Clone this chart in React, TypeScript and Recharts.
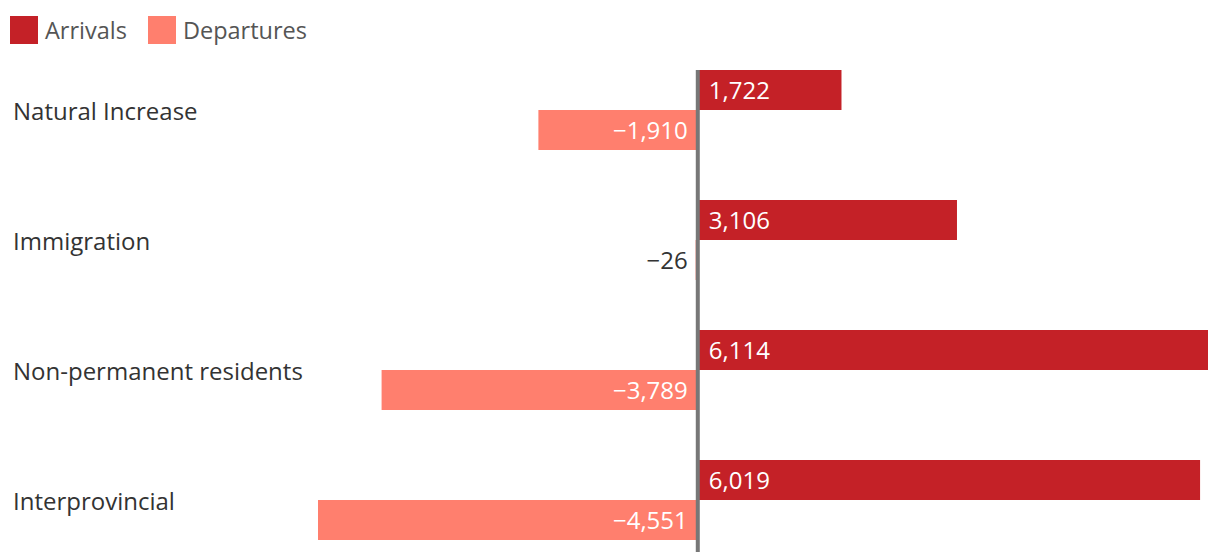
import React from 'react';
import { BarChart, Bar, XAxis, YAxis, ReferenceLine, LabelList } from 'recharts';

const categories = ['Natural Increase', 'Immigration', 'Non-permanent residents', 'Interprovincial'];
const arrivals = [1722, 3106, 6114, 6019];
const departures = [-1910, -26, -3789, -4551];
const seriesNames = ['Arrivals', 'Departures'];
const seriesColors = ['#C42127', '#FF7F6E'];
const xDomain = [-4551, 6114];

const data = categories.map((name, i) => ({ name, arrivals: arrivals[i], departures: departures[i] }));

const FONT = '"Open Sans", "Noto Sans", sans-serif';

const fmt = (v: number) => (v < 0 ? '\u2212' : '') + Math.abs(v).toLocaleString('en-US');

const ArrivalLabel = (props: any) => {
  const { x, y, width, height, value } = props;
  const left = Math.min(x, x + width);
  return (
    <text x={left + 11} y={y + height / 2} dy="0.36em" textAnchor="start" fill="#fff" fontSize={24} fontFamily={FONT}>
      {fmt(value)}
    </text>
  );
};

const DepartureLabel = (props: any) => {
  const { x, y, width, height, value } = props;
  const right = Math.max(x, x + width);
  const w = Math.abs(width);
  return (
    <text x={right - 10} y={y + height / 2} dy="0.36em" textAnchor="end" fill={w > 80 ? '#fff' : '#333'} fontSize={24} fontFamily={FONT}>
      {fmt(value)}
    </text>
  );
};

const CategoryTick = (props: any) => {
  const { y, payload } = props;
  return (
    <text x={13} y={y + 1} dy="0.36em" textAnchor="start" fill="#333" fontSize={24} fontFamily={FONT}>
      {payload.value}
    </text>
  );
};

const ZeroLine = (props: any) => {
  const { x1, y1, x2, y2 } = props;
  const top = Math.min(y1, y2);
  const bottom = Math.max(y1, y2);
  return <line x1={x1} y1={top + 25} x2={x2} y2={bottom} stroke="#777" strokeWidth={4} />;
};

export default function App() {
  return (
    <div style={{ position: 'absolute', left: 0, top: 0, width: 1220, height: 552, overflow: 'hidden', background: '#fff' }}>
      <div style={{ position: 'absolute', left: 10, top: 16, display: 'flex', alignItems: 'center', fontFamily: FONT, fontSize: 23.5, color: '#555', zIndex: 2 }}>
        {seriesNames.map((n, i) => (
          <div key={n} style={{ display: 'flex', alignItems: 'center', marginRight: 21 }}>
            <div style={{ width: 28, height: 28, background: seriesColors[i], marginRight: 7 }} />
            <span style={{ lineHeight: '28px' }}>{n}</span>
          </div>
        ))}
      </div>
      <BarChart
        width={1220}
        height={565}
        data={data}
        layout="vertical"
        margin={{ top: 45, right: 12, left: 0, bottom: 0 }}
        barGap={0}
        barCategoryGap={25}
      >
        <XAxis type="number" domain={xDomain} hide allowDataOverflow />
        <YAxis type="category" dataKey="name" width={318} axisLine={false} tickLine={false} tick={<CategoryTick />} interval={0} />
        <Bar dataKey="arrivals" name={seriesNames[0]} fill={seriesColors[0]} barSize={40} isAnimationActive={false}>
          <LabelList dataKey="arrivals" content={<ArrivalLabel />} />
        </Bar>
        <Bar dataKey="departures" name={seriesNames[1]} fill={seriesColors[1]} barSize={40} isAnimationActive={false}>
          <LabelList dataKey="departures" content={<DepartureLabel />} />
        </Bar>
        <ReferenceLine x={0} shape={<ZeroLine />} />
      </BarChart>
    </div>
  );
}
